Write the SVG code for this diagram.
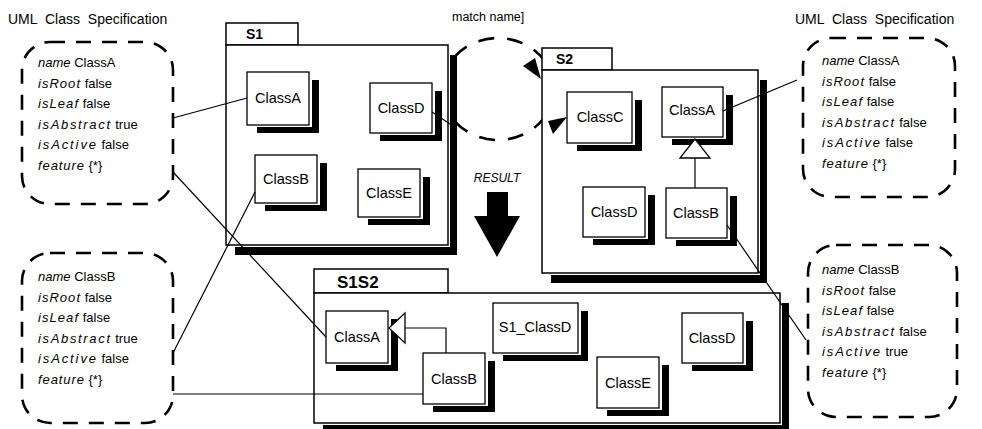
<svg xmlns="http://www.w3.org/2000/svg" width="982" height="429" viewBox="0 0 982 429">
<style>
text{font-family:"Liberation Sans",Arial,sans-serif;fill:#000}
.pk{fill:#fff;stroke:#000;stroke-width:1.5}
.sh{fill:#000}
.halo{fill:#fff}
.cls{fill:#fff;stroke:#000;stroke-width:1.3}
.ct{font-size:14.5px;text-anchor:middle}
.note{fill:none;stroke:#000;stroke-width:2.6;stroke-dasharray:15 11}
.nt{font-size:13px}
.k{font-style:italic}
.ln{stroke:#000;stroke-width:1.2;fill:none}
.tri{fill:#fff;stroke:#000;stroke-width:1.3}
.title{font-size:14px;word-spacing:4px}
</style>

<!-- match name loop (behind packages) -->
<g id="match-loop">
<ellipse cx="498" cy="89" rx="56" ry="51" fill="none" stroke="#000" stroke-width="2.6" stroke-dasharray="16 13"/>
</g>

<!-- Package S1 -->
<g id="S1">
<rect class="sh" x="235" y="55" width="222" height="200"/>
<rect class="halo" x="226" y="45" width="224" height="202"/>
<rect class="pk" x="226" y="23" width="72" height="22"/>
<rect class="pk" x="226" y="45" width="222" height="200"/>
<text x="246" y="39" font-size="14" font-weight="bold">S1</text>
</g>
<g id="S1-ClassA"><rect class="sh" x="257" y="80" width="62" height="53"/><rect class="halo" x="247" y="72" width="65" height="55"/><rect class="cls" x="247" y="72" width="62" height="53"/><text class="ct" x="278" y="103">ClassA</text></g>
<g id="S1-ClassD"><rect class="sh" x="380" y="91" width="62" height="50"/><rect class="halo" x="370" y="83" width="65" height="52"/><rect class="cls" x="370" y="83" width="62" height="50"/><text class="ct" x="401" y="113">ClassD</text></g>
<g id="S1-ClassB"><rect class="sh" x="265" y="163" width="62" height="48"/><rect class="halo" x="255" y="155" width="65" height="50"/><rect class="cls" x="255" y="155" width="62" height="48"/><text class="ct" x="286" y="184">ClassB</text></g>
<g id="S1-ClassE"><rect class="sh" x="368" y="177" width="62" height="48"/><rect class="halo" x="358" y="169" width="65" height="50"/><rect class="cls" x="358" y="169" width="62" height="48"/><text class="ct" x="389" y="198">ClassE</text></g>

<!-- Package S2 -->
<g id="S2">
<rect class="sh" x="551" y="80" width="216" height="203"/>
<rect class="halo" x="542" y="70" width="218" height="205"/>
<rect class="pk" x="542" y="48" width="70" height="22"/>
<rect class="pk" x="542" y="70" width="216" height="203"/>
<text x="556" y="64" font-size="14" font-weight="bold">S2</text>
</g>
<g id="S2-ClassC"><rect class="sh" x="577" y="100" width="65" height="51"/><rect class="halo" x="567" y="92" width="68" height="53"/><rect class="cls" x="567" y="92" width="65" height="51"/><text class="ct" x="600" y="122">ClassC</text></g>
<g id="S2-ClassA"><rect class="sh" x="672" y="95" width="61" height="50"/><rect class="halo" x="662" y="87" width="64" height="52"/><rect class="cls" x="662" y="87" width="61" height="50"/><text class="ct" x="692" y="115">ClassA</text></g>
<g id="S2-ClassD"><rect class="sh" x="593" y="195" width="62" height="50"/><rect class="halo" x="583" y="187" width="65" height="52"/><rect class="cls" x="583" y="187" width="62" height="50"/><text class="ct" x="614" y="217">ClassD</text></g>
<g id="S2-ClassB"><rect class="sh" x="676" y="196" width="61" height="50"/><rect class="halo" x="666" y="188" width="64" height="52"/><rect class="cls" x="666" y="188" width="61" height="50"/><text class="ct" x="696" y="218">ClassB</text></g>

<!-- Package S1S2 -->
<g id="S1S2">
<rect class="sh" x="323" y="303" width="466" height="130"/>
<rect class="halo" x="314" y="293" width="468" height="132"/>
<rect class="pk" x="314" y="269" width="134" height="24"/>
<rect class="pk" x="314" y="293" width="466" height="130"/>
<text x="337" y="288" font-size="17" font-weight="bold">S1S2</text>
</g>
<g id="S1S2-ClassA"><rect class="sh" x="336" y="319" width="62" height="52"/><rect class="halo" x="326" y="311" width="65" height="54"/><rect class="cls" x="326" y="311" width="62" height="52"/><text class="ct" x="357" y="342">ClassA</text></g>
<g id="S1S2-ClassB"><rect class="sh" x="433" y="361" width="62" height="51"/><rect class="halo" x="423" y="353" width="65" height="53"/><rect class="cls" x="423" y="353" width="62" height="51"/><text class="ct" x="454" y="384">ClassB</text></g>
<g id="S1S2-S1_ClassD"><rect class="sh" x="503" y="311" width="85" height="50"/><rect class="halo" x="493" y="303" width="88" height="52"/><rect class="cls" x="493" y="303" width="85" height="50"/><text class="ct" x="535" y="332">S1_ClassD</text></g>
<g id="S1S2-ClassE"><rect class="sh" x="607" y="365" width="62" height="51"/><rect class="halo" x="597" y="357" width="65" height="53"/><rect class="cls" x="597" y="357" width="62" height="51"/><text class="ct" x="628" y="388">ClassE</text></g>
<g id="S1S2-ClassD"><rect class="sh" x="692" y="321" width="61" height="50"/><rect class="halo" x="682" y="313" width="64" height="52"/><rect class="cls" x="682" y="313" width="61" height="50"/><text class="ct" x="712" y="343">ClassD</text></g>

<!-- Connectors -->
<g id="connectors">
<line class="ln" x1="173" y1="118" x2="247" y2="98"/>
<line class="ln" x1="173" y1="172" x2="326" y2="337"/>
<line class="ln" x1="173" y1="353" x2="255" y2="192"/>
<line class="ln" x1="173" y1="394" x2="423" y2="394"/>
<line class="ln" x1="723" y1="111" x2="797" y2="80"/>
<line class="ln" x1="727" y1="225" x2="806" y2="340"/>
<line class="ln" x1="432" y1="112" x2="456" y2="128"/>
<!-- S2 generalization -->
<line class="ln" x1="695" y1="158" x2="695" y2="188"/>
<polygon class="tri" points="695,139 680,158 710,158"/>
<!-- S1S2 generalization -->
<polyline class="ln" points="405,328 446,328 446,353"/>
<polygon class="tri" points="389,328 405,313 405,343"/>
<!-- match name arrowheads -->
<polygon points="541,79 523,66 535,58" fill="#000"/>
<polygon points="567,117 548,121 553,134" fill="#000"/>
</g>

<!-- labels -->
<text x="452" y="21" font-size="12.5">match name]</text>
<text x="497" y="182" font-size="12" font-style="italic" text-anchor="middle">RESULT</text>
<g id="result-arrow"><polygon points="487,192 508,192 508,216 520,216 497,257 474,216 487,216" fill="#000"/></g>

<text class="title" x="8" y="24">UML Class Specification</text>
<text class="title" x="795" y="24">UML Class Specification</text>

<!-- Callouts -->
<g id="spec-left-A">
<rect class="note" x="22" y="42" width="151" height="162" rx="28"/>
<text class="nt" x="38" y="67"><tspan class="k">name</tspan> ClassA</text>
<text class="nt" x="38" y="87.5"><tspan class="k" textLength="42" lengthAdjust="spacing">isRoot</tspan> false</text>
<text class="nt" x="38" y="108"><tspan class="k" textLength="40" lengthAdjust="spacing">isLeaf</tspan> false</text>
<text class="nt" x="38" y="128.5"><tspan class="k" textLength="72" lengthAdjust="spacing">isAbstract</tspan> true</text>
<text class="nt" x="38" y="149"><tspan class="k" textLength="58" lengthAdjust="spacing">isActive</tspan> false</text>
<text class="nt" x="38" y="169.5"><tspan class="k" textLength="46" lengthAdjust="spacing">feature</tspan> {*}</text>
</g>
<g id="spec-left-B">
<rect class="note" x="22" y="253" width="151" height="170" rx="28"/>
<text class="nt" x="38" y="281"><tspan class="k">name</tspan> ClassB</text>
<text class="nt" x="38" y="301.5"><tspan class="k" textLength="42" lengthAdjust="spacing">isRoot</tspan> false</text>
<text class="nt" x="38" y="322"><tspan class="k" textLength="40" lengthAdjust="spacing">isLeaf</tspan> false</text>
<text class="nt" x="38" y="342.5"><tspan class="k" textLength="72" lengthAdjust="spacing">isAbstract</tspan> true</text>
<text class="nt" x="38" y="363"><tspan class="k" textLength="58" lengthAdjust="spacing">isActive</tspan> false</text>
<text class="nt" x="38" y="383.5"><tspan class="k" textLength="46" lengthAdjust="spacing">feature</tspan> {*}</text>
</g>
<g id="spec-right-A">
<rect class="note" x="803" y="38" width="152" height="159" rx="28"/>
<text class="nt" x="822" y="65"><tspan class="k">name</tspan> ClassA</text>
<text class="nt" x="822" y="85.5"><tspan class="k" textLength="42" lengthAdjust="spacing">isRoot</tspan> false</text>
<text class="nt" x="822" y="106"><tspan class="k" textLength="40" lengthAdjust="spacing">isLeaf</tspan> false</text>
<text class="nt" x="822" y="126.5"><tspan class="k" textLength="72" lengthAdjust="spacing">isAbstract</tspan> false</text>
<text class="nt" x="822" y="147"><tspan class="k" textLength="58" lengthAdjust="spacing">isActive</tspan> false</text>
<text class="nt" x="822" y="167.5"><tspan class="k" textLength="46" lengthAdjust="spacing">feature</tspan> {*}</text>
</g>
<g id="spec-right-B">
<rect class="note" x="808" y="245" width="149" height="172" rx="28"/>
<text class="nt" x="822" y="274"><tspan class="k">name</tspan> ClassB</text>
<text class="nt" x="822" y="294.5"><tspan class="k" textLength="42" lengthAdjust="spacing">isRoot</tspan> false</text>
<text class="nt" x="822" y="315"><tspan class="k" textLength="40" lengthAdjust="spacing">isLeaf</tspan> false</text>
<text class="nt" x="822" y="335.5"><tspan class="k" textLength="72" lengthAdjust="spacing">isAbstract</tspan> false</text>
<text class="nt" x="822" y="356"><tspan class="k" textLength="58" lengthAdjust="spacing">isActive</tspan> true</text>
<text class="nt" x="822" y="376.5"><tspan class="k" textLength="46" lengthAdjust="spacing">feature</tspan> {*}</text>
</g>
</svg>
